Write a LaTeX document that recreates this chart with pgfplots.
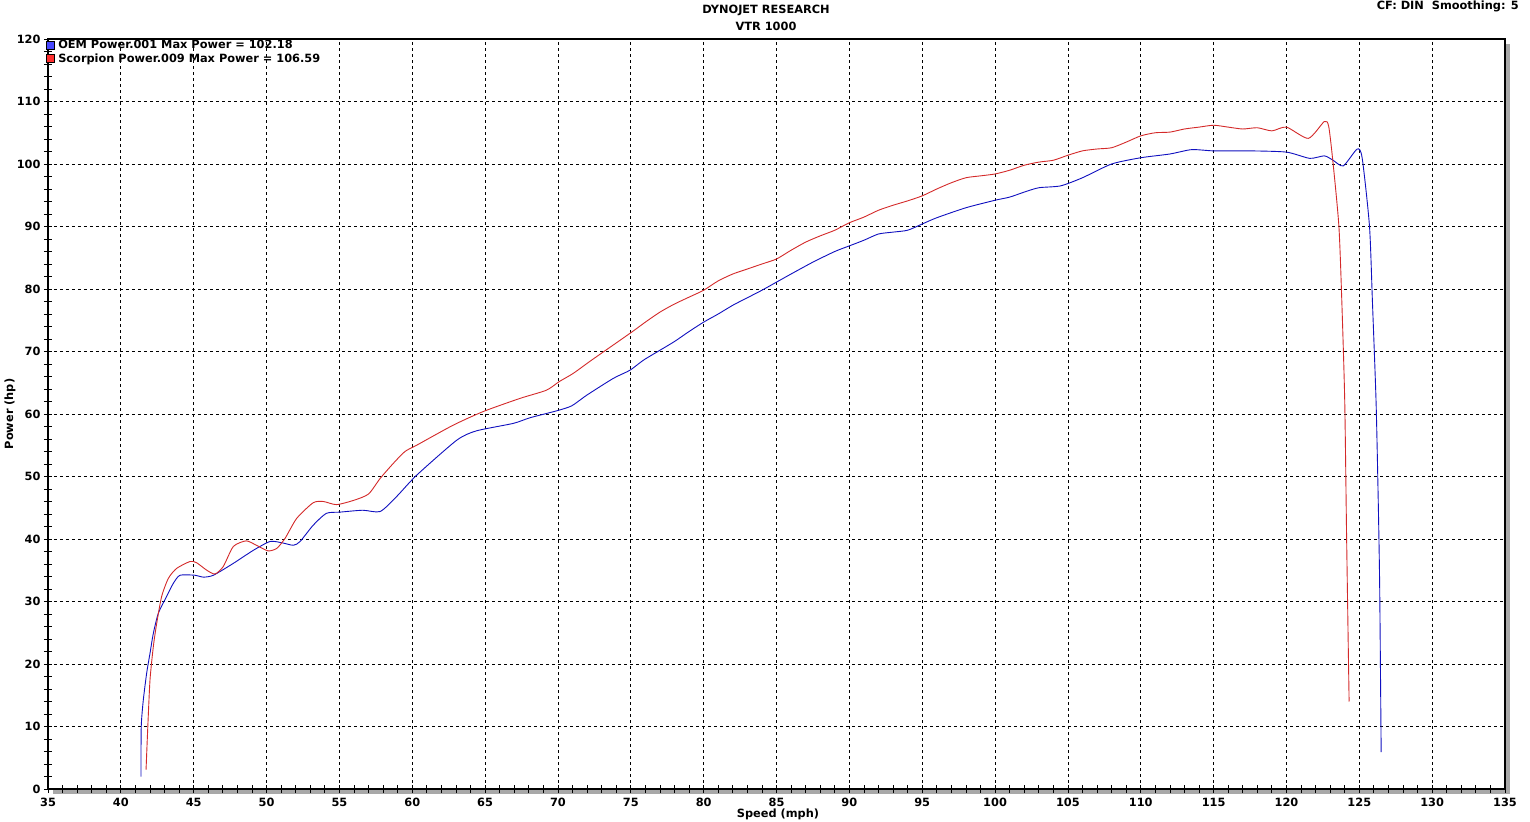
\documentclass[border=0pt]{standalone}
\usepackage{fontspec}
\setmainfont{DejaVu Sans}
\usepackage{pgfplots}
\pgfplotsset{compat=1.18}
\definecolor{oemblue}{HTML}{1010C0}
\definecolor{scorred}{HTML}{D42A2A}
\definecolor{legblue}{HTML}{4848FF}
\definecolor{legred}{HTML}{FF3030}
\definecolor{shadow}{HTML}{A8A8A8}
\newcommand{\lf}{\fontsize{11.4}{13.5}\selectfont\bfseries}
\begin{document}
\begin{tikzpicture}
\useasboundingbox (-48bp,-33bp) rectangle (1482bp,789bp);
\fill[shadow] (5bp,-5bp) rectangle (1462bp,745bp);
\begin{axis}[
  at={(0,0)}, anchor=south west,
  scale only axis, width=1457bp, height=750bp,
  xmin=35, xmax=135, ymin=0, ymax=120,
  xtick={35,40,...,135}, ytick={0,10,...,120},
  minor x tick num=4, minor y tick num=4,
  xtick pos=left, ytick pos=left,
  tick align=center,
  major tick length=8bp, minor tick length=8bp,
  tick style={black, line width=0.8bp},
  axis line style={black, line width=1.2bp},
  axis background/.style={fill=white},
  grid=major,
  major grid style={black, line width=0.7bp, dash pattern=on 3bp off 3bp},
  /pgf/number format/assume math mode=true,
  ticklabel style={font=\lf},
  xticklabel style={yshift=-2bp},
  yticklabel style={xshift=0bp},
  legend style={at={(0,1)}, anchor=north west, xshift=-2.3bp, yshift=0.5bp, draw=none, fill=none,
    inner sep=0pt, outer sep=0pt, row sep=0.5bp,
    font=\lf,
    nodes={inner sep=1.5bp},
    /tikz/every odd column/.append style={column sep=2.5bp}},
  legend cell align=left,
]
\addlegendimage{legend image code/.code={\draw[black, line width=0.6bp, fill=legblue] (0bp,-4bp) rectangle (8bp,4bp);}}
\addlegendentry{OEM Power.001 Max Power = 102.18}
\addlegendimage{legend image code/.code={\draw[black, line width=0.6bp, fill=legred] (0bp,-4bp) rectangle (8bp,4bp);}}
\addlegendentry{Scorpion Power.009 Max Power = 106.59}

\addplot[oemblue, line width=0.9bp, forget plot, smooth, tension=0.4] coordinates {
(41.38,1.97) (41.40,10) (41.54,14.2) (41.77,18.5) (42.0,21.7) (42.23,24.9)
(42.57,28.1) (43.14,30.8) (43.6,32.9) (44.06,34.2) (45.09,34.2) (45.66,33.9)
(46.35,34.2) (47.72,36.1) (49.1,38.2) (50.24,39.6) (51.04,39.4) (51.84,39.0)
(52.3,39.6) (53.2,42.2) (54.1,44.1) (55.04,44.3) (56.6,44.6) (57.8,44.4)
(58.93,46.8) (60.3,50.2) (63.05,55.8) (64.4,57.3) (66.94,58.5) (68.08,59.4)
(69.9,60.5) (70.94,61.3) (71.97,63.0) (73.8,65.7) (74.94,67.0) (75.86,68.6)
(77,70.2) (78,71.6) (79,73.2) (80,74.7) (81,76.0) (82,77.4) (83,78.6) (84,79.8)
(85,81.1) (86,82.4) (87.5,84.3) (89,86.0) (90,86.9) (91,87.8) (92,88.8) (93,89.1)
(94,89.4) (95,90.4) (96,91.4) (98,93.0) (100,94.2) (101,94.7) (102,95.5) (103,96.2)
(104.5,96.5) (106,97.8) (108,100.0) (110,101.0) (112,101.6) (113.5,102.3) (115,102.1)
(117.5,102.1) (120.0,101.9) (121.6,100.9) (122.6,101.3) (123.2,100.6) (123.9,99.7)
(124.86,102.4) (125.2,100.9) (125.7,90) (125.9,78) (126.15,62) (126.3,46)
(126.4,32) (126.5,5.9)
};
\addplot[scorred, line width=0.9bp, forget plot, smooth, tension=0.4] coordinates {
(41.73,3.1) (41.84,9.4) (42.0,17.4) (42.23,22.8) (42.46,26.5) (42.8,30.8)
(43.26,33.7) (43.83,35.3) (44.75,36.4) (45.2,36.2) (45.9,35.0) (46.46,34.4)
(47.03,35.6) (47.72,38.8) (48.6,39.7) (49.3,39.0) (50.1,38.1) (50.7,38.5)
(51.27,40.1) (52.07,43.3) (53.2,45.8) (53.9,46.0) (54.8,45.5) (56.0,46.2)
(57.0,47.2) (57.8,49.7) (58.7,52.1) (59.5,54.0) (60.3,55.0) (62.8,58.2)
(64.88,60.4) (67.4,62.5) (69.2,63.8) (70.1,65.2) (71.05,66.5) (72.3,68.6)
(75,73.0) (76,74.7) (77,76.3) (78,77.6) (79,78.7) (80,79.8) (81,81.3) (82,82.4)
(83,83.2) (84,84.0) (85,84.8) (86,86.2) (87,87.5) (88,88.5) (89,89.4) (90,90.6)
(91,91.5) (92,92.6) (93,93.4) (94,94.1) (95,94.9) (96,96.0) (97,97.0) (98,97.8)
(99,98.1) (100,98.4) (101,99.0) (102,99.8) (103,100.3) (104,100.6) (105,101.4)
(106,102.1) (107,102.4) (108,102.6) (109,103.5) (110,104.5) (111,105.0) (112,105.1)
(113,105.6) (114,105.9) (115,106.2) (116,105.9) (117,105.6) (118,105.8) (119,105.3)
(120.0,105.9) (121.5,104.1) (122.6,106.8) (122.9,106.0) (123.2,100.1) (123.6,90)
(123.8,78) (124.0,62) (124.13,40) (124.3,14)
};
\end{axis}
\node[font=\lf] at (718bp,779bp) {DYNOJET RESEARCH};
\node[font=\lf] at (718bp,763bp) {VTR 1000};
\node[font=\lf, anchor=east, inner sep=0pt] at (1471bp,783bp) {CF: DIN\ \ Smoothing: 5};
\node[font=\lf, rotate=90] at (-38bp,375bp) {Power (hp)};
\node[font=\lf] at (730bp,-25bp) {Speed (mph)};
\end{tikzpicture}
\end{document}
